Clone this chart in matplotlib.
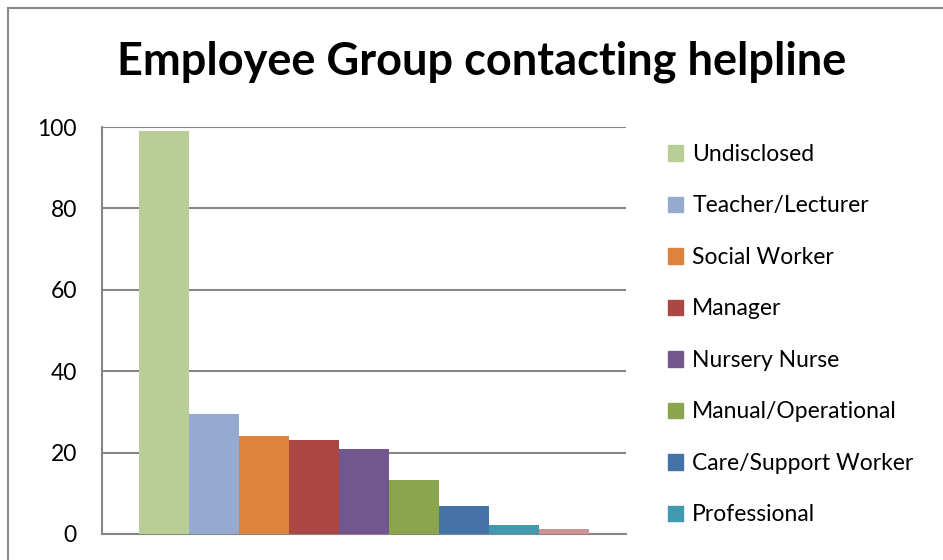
import matplotlib.pyplot as plt
from matplotlib.patches import Rectangle, Patch

groups = ['Undisclosed', 'Teacher/Lecturer', 'Social Worker', 'Manager',
          'Nursery Nurse', 'Manual/Operational', 'Care/Support Worker',
          'Professional', 'Other']
counts = [99, 29.5, 24, 23, 21, 13.3, 7, 2.3, 1.3]
colours = ['#B9CE96', '#95AACF', '#DC843E', '#AA4644', '#72578F',
           '#8AA54D', '#4572A7', '#4198AF', '#D09292']
yticks = [0, 20, 40, 60, 80, 100]

plt.rcParams['font.family'] = ['Lato', 'DejaVu Sans']

W, H = 943, 560
fig = plt.figure(figsize=(W / 100, H / 100), dpi=100)

# outer chart border (cut off on right/bottom like the screenshot)
fig.patches.append(Rectangle((8 / W, -0.1), 1.2, 1.1 - 8 / H, transform=fig.transFigure,
                             fill=False, edgecolor='#888888', lw=1.5))

ax = fig.add_axes([102 / W, (H - 534) / H, 524 / W, (534 - 127) / H])
xs = list(range(len(counts)))
bars = ax.bar(xs, counts, width=1.0, color=colours, zorder=3)

ax.set_xlim(-0.5 - 0.74, len(counts) - 0.5 + 0.74)
ax.set_ylim(0, 100)
ax.set_yticks(yticks)
ax.set_yticklabels([str(t) for t in yticks], fontsize=16.5)
ax.set_xticks([])
ax.tick_params(axis='y', length=0, pad=18)
ax.grid(axis='y', color='#868686', lw=1.5, zorder=0)
for s in ['top', 'right']:
    ax.spines[s].set_visible(False)
for s in ['left', 'bottom']:
    ax.spines[s].set_color('#868686')
    ax.spines[s].set_linewidth(1.5)

fig.text(0.5 * (120 + 843) / W, 1 - 62 / H, 'Employee Group contacting helpline',
         ha='center', va='center', fontsize=32.5, fontweight='bold')

handles = [Patch(color=c) for c in colours[:8]]
fig.legend(handles, groups[:8], loc='upper left', bbox_to_anchor=(668 / W, 1 - 144 / H),
           frameon=False, fontsize=16.5, handlelength=0.66, handleheight=0.66,
           handletextpad=0.4, labelspacing=1.33, borderaxespad=0, borderpad=0)

fig.savefig('out.png', dpi=100)
